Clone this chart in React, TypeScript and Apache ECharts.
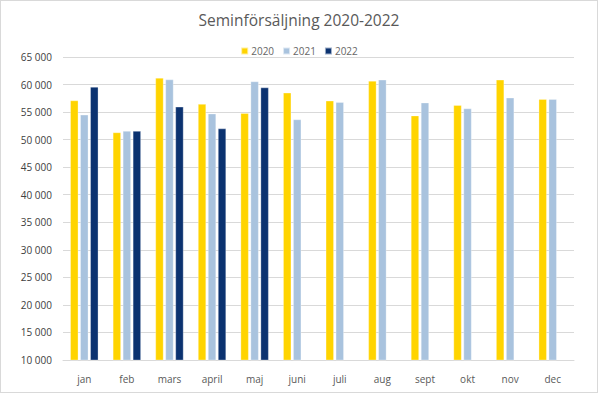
import React, { useEffect, useRef } from "react";
import * as echarts from "echarts";

const months = ["jan", "feb", "mars", "april", "maj", "juni", "juli", "aug", "sept", "okt", "nov", "dec"];
const sales2020 = [57100, 51300, 61200, 56450, 54800, 58500, 57050, 60650, 54350, 56250, 60850, 57350];
const sales2021 = [54500, 51550, 60900, 54700, 60550, 53650, 56800, 60850, 56700, 55650, 57600, 57350];
const sales2022 = [59550, 51550, 55950, 52000, 59450, null, null, null, null, null, null, null];
const seriesNames = ["2020", "2021", "2022"];
const colors = ["#FFD400", "#A9C3DE", "#0B3270"];

const fmt = (v: number) => String(v).replace(/\B(?=(\d{3})+(?!\d))/g, " ");

export default function App() {
  const ref = useRef<HTMLDivElement>(null);
  useEffect(() => {
    if (!ref.current) return;
    const chart = echarts.init(ref.current, null, { renderer: "svg" });
    const data = [sales2020, sales2021, sales2022];
    chart.setOption({
      animation: false,
      backgroundColor: "#ffffff",
      textStyle: { fontFamily: "Open Sans" },
      title: {
        text: "Seminförsäljning 2020-2022",
        left: "center",
        top: 6,
        textStyle: { fontFamily: "Open Sans", fontSize: 15.5, fontWeight: "normal", color: "#595959" },
      },
      legend: {
        top: 40,
        left: "center",
        itemWidth: 7,
        itemHeight: 7,
        itemGap: 8,
        icon: "rect",
        textStyle: { fontFamily: "Open Sans", fontSize: 10, color: "#666666", padding: [0, 0, 0, -2] },
        data: seriesNames,
      },
      grid: { left: 62, right: 23, top: 56, bottom: 32, containLabel: false },
      xAxis: {
        type: "category",
        data: months,
        axisLine: { show: true, lineStyle: { color: "#d9d9d9", width: 1 } },
        axisTick: { show: false },
        axisLabel: { fontFamily: "Open Sans", fontSize: 10, color: "#595959", margin: 14 },
      },
      yAxis: {
        type: "value",
        min: 10000,
        max: 65000,
        interval: 5000,
        axisLine: { show: false },
        axisTick: { show: false },
        splitLine: { lineStyle: { color: "#d9d9d9", width: 1 } },
        axisLabel: {
          fontFamily: "Open Sans",
          fontSize: 10,
          color: "#404040",
          margin: 11,
          formatter: (v: number) => fmt(v),
        },
      },
      series: seriesNames.map((name, i) => ({
        name,
        type: "bar",
        data: data[i],
        barWidth: 8,
        barGap: "25%",
        itemStyle: { color: colors[i], borderColor: "rgba(255,255,255,0.6)", borderWidth: 0.5 },
      })),
    });
    return () => chart.dispose();
  }, []);
  return (
    <div
      style={{
        position: "fixed",
        left: 0,
        top: 0,
        width: 598,
        height: 393,
        boxSizing: "border-box",
        border: "1px solid #d9d9d9",
        background: "#fff",
      }}
    >
      <div ref={ref} style={{ width: 596, height: 391 }} />
    </div>
  );
}
